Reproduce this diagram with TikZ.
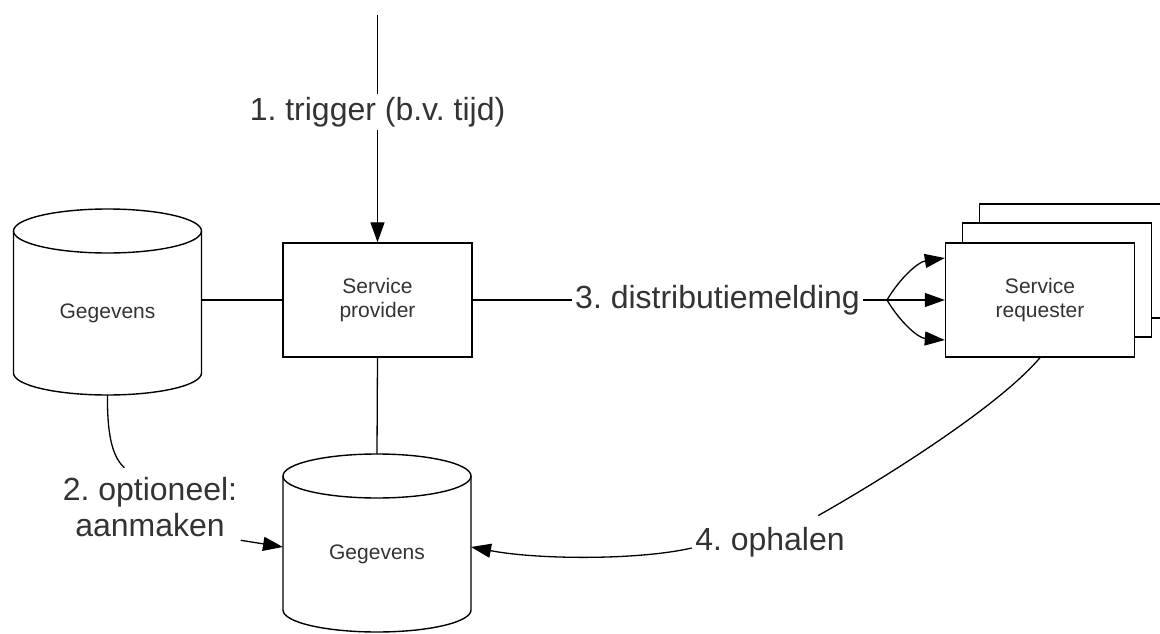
\documentclass[tikz,border=0pt]{standalone}
\usepackage{fontspec}
\setmainfont{Liberation Sans}
\usetikzlibrary{arrows.meta}
\definecolor{labelgray}{RGB}{51,51,51}
\frenchspacing

% database cylinder: name, x, y of top ellipse, y of bottom ellipse
\newcommand\gegevensdb[4]{%
  \draw[dbline] (#2-94,#3) -- (#2-94,#4)
    arc[start angle=180,end angle=0,x radius=94,y radius=22] -- (#2+94,#3);
  \draw[dbline] (#2,#3) ellipse[x radius=94,y radius=22];
  \node[smalltext] (#1) at (#2,{(#3+#4)/2+11}) {Gegevens};
  \coordinate (#1-n) at (#2,#3-22);
  \coordinate (#1-s) at (#2,#4+22);
  \coordinate (#1-w) at (#2-94,{(#3+#4)/2});
  \coordinate (#1-e) at (#2+94,{(#3+#4)/2});
}

\begin{document}
\begin{tikzpicture}[x=1pt,y=-1pt,
  dbline/.style={line width=1.4pt},
  smalltext/.style={font=\fontsize{21}{24}\selectfont, text=labelgray, align=center},
  bigtext/.style={font=\fontsize{32}{36}\selectfont, text=labelgray, align=center},
  servicebox/.style={draw, line width=1.4pt, fill=white,
    minimum width=189pt, minimum height=114pt, smalltext},
  conn/.style={line width=1.3pt},
  arr/.style={conn, -{Triangle[length=20pt,width=14pt]}}]
  \useasboundingbox (0,0) rectangle (1160,634);

  \node[servicebox] (prov) at (377.5,300) {Service\\provider};
  \gegevensdb{db1}{107.5}{231}{373}
  \gegevensdb{db2}{377}{476}{610}

  % stack of requesters
  \node[servicebox] (req3) at (1074,261) {};
  \node[servicebox] (req2) at (1057,280) {};
  \node[servicebox] (req) at (1040,300) {Service\\requester};

  % 1. trigger
  \coordinate (trig) at (377.5,15);
  \draw[arr] (trig) -- (prov.north);
  \node[bigtext, fill=white] (trigtext) at (377.5,112) {1. trigger (b.v. tijd)};

  \draw[conn] (prov.west -| db1-e) -- (prov.west);
  \draw[conn] (prov.south) -- (db2-n);

  % 2. optioneel aanmaken
  \node[bigtext] (opt) at (150,507) {2. optioneel:\\aanmaken};
  \draw[conn] (db1-s) .. controls (107,440) and (114,458) .. ([xshift=65pt,yshift=6pt]opt.north west);
  \draw[arr] (opt.south east) -- ([yshift=-4pt]db2-w);

  % 3. distributiemelding
  \coordinate (fork) at (887,300);
  \draw[conn] (prov.east) -- (fork);
  \node[bigtext, fill=white] (dist) at (717.5,300) {3. distributiemelding};
  \draw[arr] (fork) .. controls (900,278) and (918,262) .. ([yshift=42pt]req.west);
  \draw[arr] (fork) -- (req.west);
  \draw[arr] (fork) .. controls (900,322) and (918,338) .. ([yshift=-40pt]req.west);

  % 4. ophalen
  \node[bigtext] (oph) at (770,542) {4. ophalen};
  \draw[conn] (req.south) .. controls (1000,405) and (890,475) .. ([xshift=-30pt,yshift=8pt]oph.north east);
  \draw[arr] ([yshift=-6pt]oph.west) .. controls (640,560) and (540,560) .. ([yshift=-4pt]db2-e);
\end{tikzpicture}
\end{document}
